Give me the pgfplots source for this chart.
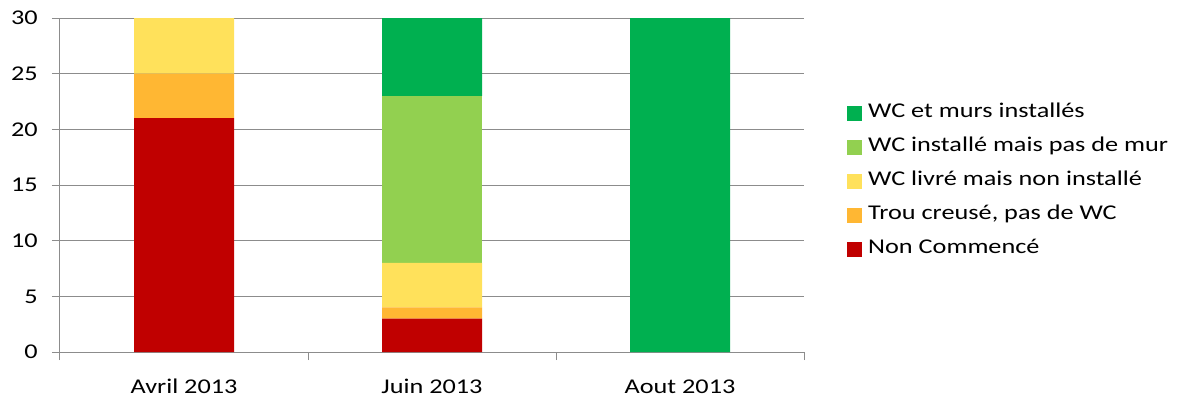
\documentclass[border=0pt]{standalone}
\usepackage{fontspec}
\setmainfont[FakeStretch=1.25]{Carlito}
\usepackage{pgfplots}
\pgfplotsset{compat=1.18}
\definecolor{cNon}{HTML}{C00000}
\definecolor{cTrou}{HTML}{FFB733}
\definecolor{cLivre}{HTML}{FFE15B}
\definecolor{cInst}{HTML}{92D050}
\definecolor{cMur}{HTML}{00B050}
\definecolor{gridc}{HTML}{8C8C8C}
\begin{document}
\begin{tikzpicture}
\path[use as bounding box] (-60pt,-48pt) rectangle (1119pt,352pt);
\begin{axis}[
  at={(0,0)}, anchor=south west,
  scale only axis, width=744pt, height=334pt,
  ybar stacked, bar width=100pt,
  xmin=-0.5, xmax=2.5, ymin=0, ymax=30,
  xtick={-0.5,0.5,1.5,2.5}, xticklabels={},
  extra x ticks={0,1,2},
  extra x tick labels={Avril 2013, Juin 2013, Aout 2013},
  extra x tick style={major tick length=0pt, xtick style={draw=none}},
  ytick={0,5,...,30},
  axis x line*=bottom, axis y line*=left,
  axis line style={gridc, line width=1pt, -},
  ymajorgrids, grid style={gridc, line width=1pt},
  tick align=outside,
  major tick length=8pt,
  tick style={gridc, line width=1pt},
  /pgf/number format/assume math mode=true,
  ticklabel style={font=\fontsize{21}{25}\selectfont, text=black},
  yticklabel style={anchor=east, inner sep=0pt, xshift=-14pt},
  xticklabel style={anchor=north, inner sep=0pt, text height=14pt, text depth=5pt, yshift=-27pt},
  reverse legend,
  legend style={at={(axis description cs:1.0578,0.511)}, anchor=west,
    draw=none, fill=none, inner sep=0pt, row sep=15pt,
    font=\fontsize{21}{25}\selectfont,
    nodes={inner sep=0pt, text height=14pt, text depth=5pt},
    /tikz/every odd column/.append style={column sep=6pt}},
  legend cell align=left,
  legend image code/.code={\fill[#1] (0pt,-7.5pt) rectangle (15pt,7.5pt);},
]
\addplot[fill=cNon, draw=none] coordinates {(0,21) (1,3) (2,0)};
\addplot[fill=cTrou, draw=none] coordinates {(0,4) (1,1) (2,0)};
\addplot[fill=cLivre, draw=none] coordinates {(0,5) (1,4) (2,0)};
\addplot[fill=cInst, draw=none] coordinates {(0,0) (1,15) (2,0)};
\addplot[fill=cMur, draw=none] coordinates {(0,0) (1,7) (2,30)};
\legend{Non Commencé, {Trou creusé, pas de WC}, WC livré mais non installé, WC installé mais pas de mur, WC et murs installés}
\end{axis}
\end{tikzpicture}
\end{document}
